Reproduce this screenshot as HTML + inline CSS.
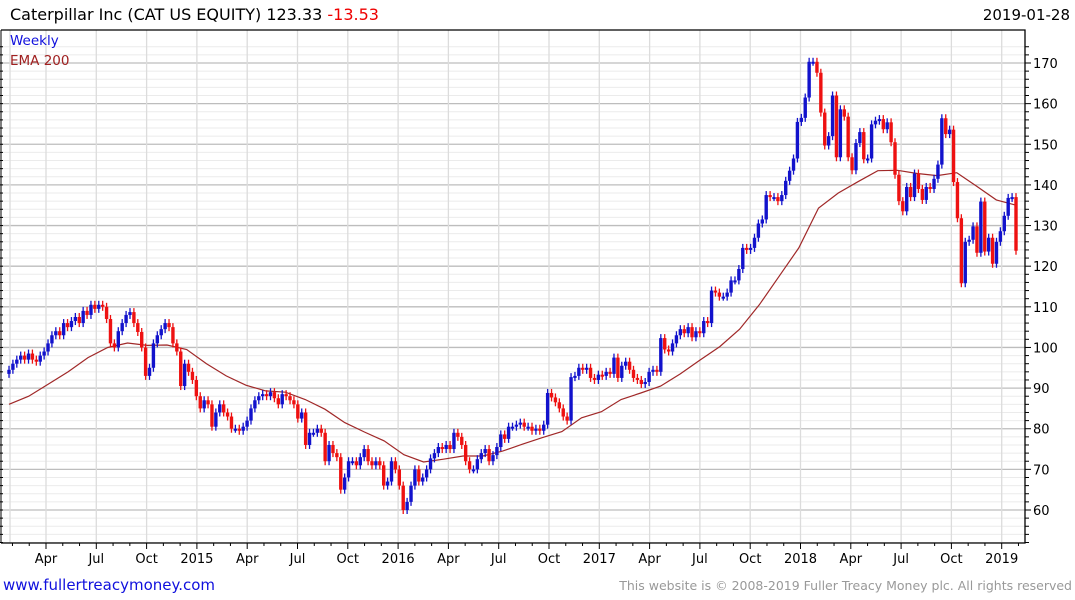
<!DOCTYPE html>
<html><head><meta charset="utf-8"><style>
html,body{margin:0;padding:0;background:#fff;width:1075px;height:600px;overflow:hidden}
svg{display:block;font-family:"DejaVu Sans","Liberation Sans",sans-serif}
</style></head><body>
<svg id="chart" width="1075" height="600" xmlns="http://www.w3.org/2000/svg">
<g id="grid"></g>
<g id="ema"></g>
<g id="candles"></g>
<g id="axes"></g>
<text x="10" y="20" font-size="16" fill="#000">Caterpillar Inc (CAT US EQUITY) 123.33 <tspan fill="#e00">-13.53</tspan></text>
<text x="1070" y="20" font-size="15" fill="#000" text-anchor="end">2019-01-28</text>
<text x="10" y="45" font-size="13.5" fill="#1010dd">Weekly</text>
<text x="10" y="65" font-size="13.5" fill="#a02020">EMA 200</text>
<text x="3" y="590" font-size="15" fill="#1010dd">www.fullertreacymoney.com</text>
<text x="1072" y="590" font-size="12.5" fill="#999" text-anchor="end">This website is © 2008-2019 Fuller Treacy Money plc. All rights reserved</text>
</svg>
<script>
const closes = [94.5,96,97,98,97,98.5,97,96.5,98,99,101,103,104,103,106,105,106.5,107.5,106,109,108,110.5,109.5,110.5,
110,107,101,100,104,106,108,108.7,106,
103.8,100,93,95,
101,103,104.5,106,105,101,99,90.5,
96,94,92,88,85,87,86,80.5,
84,86,84,83,80,80,79.5,80.5,82,85,87,88,88.5,
88,89,87.5,86,88.5,88,87,86,82.5,84,
76,79,79,80,79,72,76,74,73,65,
68,72,72,71,73,75,72,71,72,71,66,67,72,70,66,60,
62,66,70,67,68,
70,72.7,74,75.5,75,76,75,79,78,76,72,70,70,
72.5,74,75,72,73.5,75.5,78.6,77.5,80.5,80.5,81,81.5,80.5,80.5,79.5,80,79.5,81,
88.8,87.7,86.5,85,83,82,92.7,93,95,94.5,95,92.5,92,93.3,93,
94,93.5,97.5,92.5,95.5,96.5,94.5,92.5,92,91,91.5,94,94.5,94,102.3,
99.5,99,101,103,104.5,103.5,105,102.5,104,103.5,106.5,106,114,113.5,112.5,112.5,113.5,116.5,116.5,119.3,
124.5,124,124.5,127,130.5,131.5,137.5,137,137,136,137.5,141,143.5,
146.5,155.5,156.5,161.5,170.3,170.3,167.6,157.8,149.7,152,162,146.8,158.6,156.8,146.8,143.6,150.3,153,146.3,146.5,154.9,155.8,156.2,153.7,155.4,150.5,142.5,136,133.5,139.5,137,142.8,139,136.3,139.5,139,141.5,145,156.4,152.5,153.6,140.7,131.8,115.8,126,126.5,129.8,123.3,135.9,123.6,127,120.6,126,128.6,132.4,136.8,137,123.8];
const ema = [86,88,91,94,97.5,100,101.1,100.5,100.6,99.5,96,93,90.7,89.3,89,87.2,84.8,81.5,79.2,77,73.6,71.8,72.5,73.3,73.3,74.5,76.2,77.8,79.3,82.7,84.2,87.2,88.8,90.5,93.5,96.9,100.2,104.5,110.5,117.5,124.5,134.3,138,140.8,143.5,143.6,142.8,142.3,143,139.7,136.3,135];
const yTicks = [60,70,80,90,100,110,120,130,140,150,160,170];
const xLabels = ["Apr","Jul","Oct","2015","Apr","Jul","Oct","2016","Apr","Jul","Oct","2017","Apr","Jul","Oct","2018","Apr","Jul","Oct","2019"];

const NS="http://www.w3.org/2000/svg";
const L=1, R=1025, T=30, B=543;
const X0=9, X1=1016;
const y = v => 63 + (170 - v) * 4.0636;
const xc = i => X0 + i * (X1 - X0) / (closes.length - 1);
const xe = k => X0 + k * (X1 - X0) / (ema.length - 1);
const xq = q => 46 + q * 50.3;
function mk(tag, attrs, parent){const e=document.createElementNS(NS,tag);for(const k in attrs)e.setAttribute(k,attrs[k]);parent.appendChild(e);return e;}
const grid=document.getElementById('grid'), axes=document.getElementById('axes'), cg=document.getElementById('candles'), eg=document.getElementById('ema');

for(let v=52; v<=174; v+=2){
  const yy=y(v); if(yy<T||yy>B) continue;
  const major = v%10===0;
  const ln=mk('line',{x1:L,x2:R,y1:yy,y2:yy,stroke:major?'#bdbdbd':'#ebebeb','stroke-width':major?1.3:1},grid);
  
  
  const tk=mk('line',{x1:R,x2:R+(major?6:4),y1:yy,y2:yy,stroke:'#000'},axes);
  
  
  const lt=mk('line',{x1:0,x2:3,y1:yy,y2:yy,stroke:'#000'},axes);
  
  
}
const vl=mk('line',{x1:10,x2:10,y1:T,y2:B,stroke:'#dcdcdc','stroke-width':1.3},grid);


xLabels.forEach((lab,q)=>{
  const xx=xq(q);
  const g=mk('line',{x1:xx,x2:xx,y1:T,y2:B,stroke:'#dcdcdc','stroke-width':1.3},grid);
  
  
  const t=mk('text',{x:xx,y:563,'font-size':13,'text-anchor':'middle',fill:'#000'},axes);
  t.textContent=lab;
  
  
});
for(let m=-3; m<61; m++){
  const xx=xq(0)+ m*50.3/3; if(xx<L||xx>R) continue;
  const tk=mk('line',{x1:xx,x2:xx,y1:B,y2:B+((m%3===0)?6:3),stroke:'#000'},axes);
  
  
}
yTicks.forEach(v=>{
  const t=mk('text',{x:1033,y:y(v)+5,'font-size':13,fill:'#000'},axes);
  t.textContent=v;
  
  
});
const fr=mk('path',{d:`M${L} ${T} H${R} V${B} H${L}`,fill:'none',stroke:'#000','stroke-width':1.3},axes);


const la=mk('line',{x1:L,x2:L,y1:T,y2:B,stroke:'#000'},axes);



let d='';
ema.forEach((v,k)=>{d+=(k?'L':'M')+xe(k).toFixed(1)+' '+y(v).toFixed(1);});
const ep=mk('path',{d:d,fill:'none',stroke:'#a02828','stroke-width':1.2},eg);



closes.forEach((c,i)=>{
  const o = i>0 ? closes[i-1] : c-1;
  const up = c>=o;
  const col = up ? '#1212cc' : '#ee1111';
  const hi=Math.max(o,c), lo=Math.min(o,c);
  const xx=xc(i);
  const w=mk('line',{x1:xx,x2:xx,y1:y(hi)-4,y2:y(lo)+4,stroke:col,'stroke-width':1.3},cg);
  
  
  const h=Math.max(2,y(lo)-y(hi));
  const r=mk('rect',{x:xx-1.7,y:y(hi),width:3.4,height:h,fill:col},cg);
  
  
});
</script>
</body></html>
